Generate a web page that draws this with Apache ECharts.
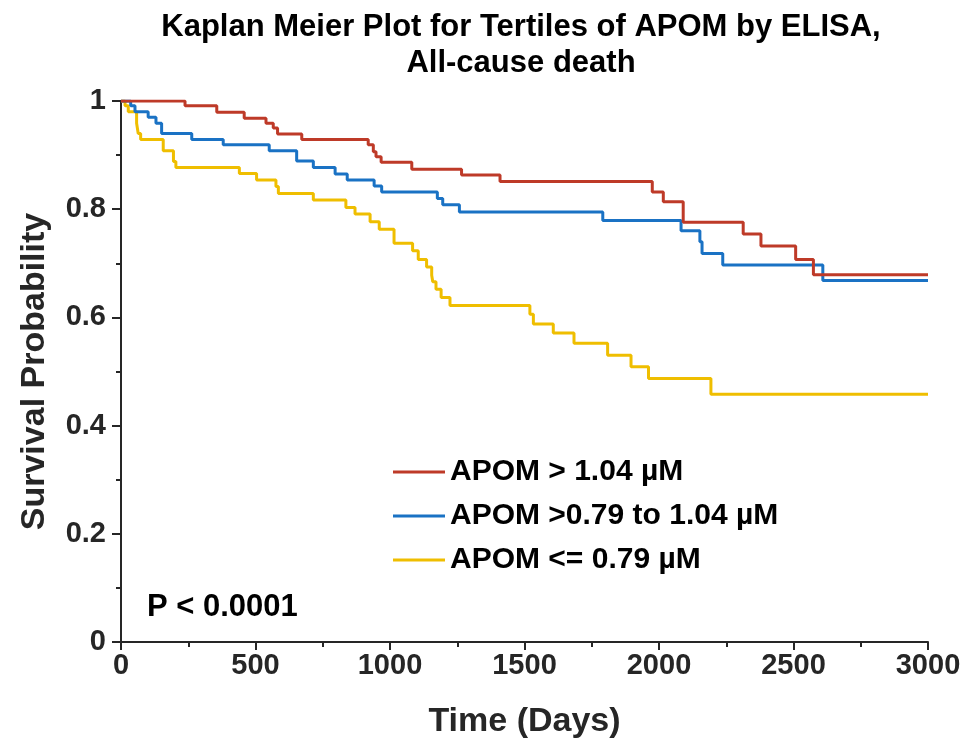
<!DOCTYPE html>
<html>
<head>
<meta charset="utf-8">
<script src="https://cdn.jsdelivr.net/npm/echarts@6/dist/echarts.min.js"></script>
<style>html,body{margin:0;padding:0;background:#fff}#c{width:979px;height:753px}</style>
</head>
<body>
<div id="c"></div>
<script>
// Kaplan-Meier step data: time at which survival changes to the given value
const redTimes = [0, 238, 356, 458, 539, 566, 582, 672, 919, 938, 948, 967, 1081, 1266, 1409, 1975, 2016, 2090, 2313, 2379, 2508, 2574, 3000];
const redValues = [1, 0.991, 0.979, 0.968, 0.959, 0.950, 0.939, 0.929, 0.919, 0.906, 0.897, 0.887, 0.874, 0.863, 0.851, 0.832, 0.814, 0.776, 0.754, 0.732, 0.707, 0.679, 0.679];

const blueTimes = [0, 36, 52, 101, 130, 151, 263, 380, 551, 653, 715, 796, 841, 941, 969, 1176, 1196, 1258, 1791, 2082, 2152, 2160, 2237, 2609, 3000];
const blueValues = [1, 0.991, 0.980, 0.970, 0.959, 0.940, 0.929, 0.919, 0.908, 0.889, 0.877, 0.865, 0.854, 0.843, 0.832, 0.820, 0.808, 0.795, 0.779, 0.760, 0.740, 0.718, 0.697, 0.668, 0.668];

const yellowTimes = [0, 15, 27, 58, 64, 73, 157, 195, 204, 440, 504, 576, 585, 715, 836, 870, 926, 960, 1015, 1084, 1105, 1136, 1155, 1159, 1171, 1190, 1223, 1520, 1533, 1607, 1684, 1809, 1896, 1961, 2193, 3000];
const yellowValues = [1, 0.991, 0.980, 0.959, 0.940, 0.929, 0.908, 0.888, 0.877, 0.866, 0.854, 0.842, 0.829, 0.817, 0.803, 0.791, 0.777, 0.763, 0.737, 0.723, 0.707, 0.693, 0.678, 0.666, 0.652, 0.637, 0.622, 0.606, 0.588, 0.571, 0.552, 0.530, 0.509, 0.487, 0.458, 0.458];

const seriesNames = ['APOM > 1.04 µM', 'APOM >0.79 to 1.04 µM', 'APOM <= 0.79 µM'];
const seriesColors = ['#BE3A28', '#1A72C4', '#EFBE00'];
const titleLines = ['Kaplan Meier Plot for Tertiles of APOM by ELISA,', 'All-cause death'];
const pValueText = 'P < 0.0001';
const xName = 'Time (Days)';
const yName = 'Survival Probability';

function zip(t, v) { return t.map((x, i) => [x, v[i]]); }

const FONT = '"Liberation Sans", Arial, Helvetica, sans-serif';
const INK = '#262626';

const chart = echarts.init(document.getElementById('c'), null, {renderer: 'canvas'});
const datasets = [zip(redTimes, redValues), zip(blueTimes, blueValues), zip(yellowTimes, yellowValues)];

chart.setOption({
  animation: false,
  backgroundColor: '#fff',
  grid: {left: 121, right: 51, top: 101, bottom: 111, containLabel: false, outerBoundsMode: 'none'},
  xAxis: {
    type: 'value', min: 0, max: 3000, interval: 500,
    name: xName, nameLocation: 'middle', nameGap: 63,
    nameTextStyle: {fontFamily: FONT, fontWeight: 'bold', fontSize: 34, color: INK},
    axisLine: {show: true, lineStyle: {color: INK, width: 2}},
    axisTick: {show: true, inside: false, length: 8, lineStyle: {color: INK, width: 2}},
    minorTick: {show: true, splitNumber: 2, length: 5, lineStyle: {color: INK, width: 2}},
    axisLabel: {fontFamily: FONT, fontWeight: 'bold', fontSize: 29, color: INK, margin: 9, formatter: v => String(v)},
    splitLine: {show: false}
  },
  yAxis: {
    type: 'value', min: 0, max: 1, interval: 0.2,
    name: yName, nameLocation: 'middle', nameGap: 69,
    nameTextStyle: {fontFamily: FONT, fontWeight: 'bold', fontSize: 34, color: INK},
    axisLine: {show: true, lineStyle: {color: INK, width: 2}},
    axisTick: {show: true, inside: false, length: 9, lineStyle: {color: INK, width: 2}},
    minorTick: {show: true, splitNumber: 2, length: 5, lineStyle: {color: INK, width: 2}},
    axisLabel: {fontFamily: FONT, fontWeight: 'bold', fontSize: 29, color: INK, margin: 15, formatter: v => String(+v.toFixed(1))},
    splitLine: {show: false}
  },
  legend: {
    orient: 'vertical', left: 388, top: 450,
    itemWidth: 52, itemHeight: 3, itemGap: 10,
    icon: 'rect',
    data: seriesNames,
    textStyle: {fontFamily: FONT, fontWeight: 'bold', fontSize: 30, color: '#000', lineHeight: 34}
  },
  graphic: [
    {type: 'text', x: 521, y: 27, style: {text: titleLines[0], fontFamily: FONT, fontWeight: 'bold', fontSize: 31, fill: '#000', textAlign: 'center', textVerticalAlign: 'middle'}},
    {type: 'text', x: 521, y: 63, style: {text: titleLines[1], fontFamily: FONT, fontWeight: 'bold', fontSize: 31, fill: '#000', textAlign: 'center', textVerticalAlign: 'middle'}},
    {type: 'text', x: 147, y: 607, style: {text: pValueText, fontFamily: FONT, fontWeight: 'bold', fontSize: 31, fill: '#000', textAlign: 'left', textVerticalAlign: 'middle'}}
  ],
  series: datasets.map((d, i) => ({
    name: seriesNames[i], type: 'line', step: 'end', data: d,
    showSymbol: false, symbol: 'none', color: seriesColors[i],
    lineStyle: {color: seriesColors[i], width: 3},
    z: 3 - i
  }))
});
</script>
</body>
</html>
